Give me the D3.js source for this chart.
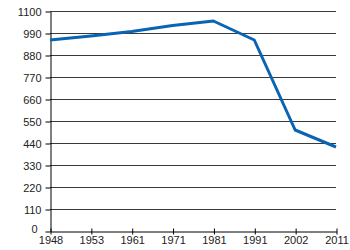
<!DOCTYPE html>
<html>
<head>
<meta charset="utf-8">
<script src="https://cdn.jsdelivr.net/npm/d3@7"></script>
<style>
  body { margin: 0; background: #fff; }
  text { font-family: "Liberation Sans", Arial, sans-serif; font-size: 11px; fill: #222; }
</style>
</head>
<body>
<svg width="350" height="250"></svg>
<script>
// 年（カテゴリ軸）
const years = ['1948', '1953', '1961', '1971', '1981', '1991', '2002', '2011']
// 値
const values = [955, 975, 997, 1027, 1050, 955, 505, 420]
// y軸の目盛り
const yTicks = [0, 110, 220, 330, 440, 550, 660, 770, 880, 990, 1100]

const svg = d3.select('svg')
const plotLeft = 50, plotRight = 336, plotTop = 11, plotBottom = 231

const x = d3.scalePoint().domain(years).range([plotLeft, plotRight])
const y = d3.scaleLinear().domain([0, 1100]).range([plotBottom, plotTop])

// 横のグリッド線
svg.append('g')
  .selectAll('line')
  .data(yTicks.filter(d => d > 0))
  .enter()
  .append('line')
  .attr('x1', plotLeft)
  .attr('x2', plotRight)
  .attr('y1', d => y(d) + 0.5)
  .attr('y2', d => y(d) + 0.5)
  .attr('stroke', '#3a3a3a')
  .attr('stroke-width', 1)

// y軸
const yAxis = svg.append('g')
  .attr('transform', `translate(${plotLeft + 0.5}, 0.5)`)
  .call(d3.axisLeft(y).tickValues(yTicks).tickFormat(d3.format('d')).tickSize(5).tickPadding(4).tickSizeOuter(0))
yAxis.select('.domain').attr('stroke', '#000')
yAxis.selectAll('.tick line').attr('stroke', '#000')
// 0 のラベルは x軸ラベルと重ならないよう少し左上へ
yAxis.selectAll('.tick text').filter(d => d === 0).attr('dx', -4).attr('dy', '0.1em')

// x軸
const xAxis = svg.append('g')
  .attr('transform', `translate(0.5, ${plotBottom + 0.5})`)
  .call(d3.axisBottom(x).tickSize(3).tickPadding(2).tickSizeOuter(0))
xAxis.select('.domain').attr('stroke', '#000')
xAxis.selectAll('.tick line').attr('stroke', '#000').attr('y1', -3)
svg.selectAll('.tick text').style('font-family', '"Liberation Sans", Arial, sans-serif').style('font-size', '11px').attr('fill', '#222')

// 折れ線
const line = d3.line()
  .x((d, i) => x(years[i]))
  .y(d => y(d))

svg.append('path')
  .datum(values)
  .attr('d', line)
  .attr('fill', 'none')
  .attr('stroke', '#0a64b4')
  .attr('stroke-width', 3)
  .attr('stroke-linejoin', 'round')
</script>
</body>
</html>
